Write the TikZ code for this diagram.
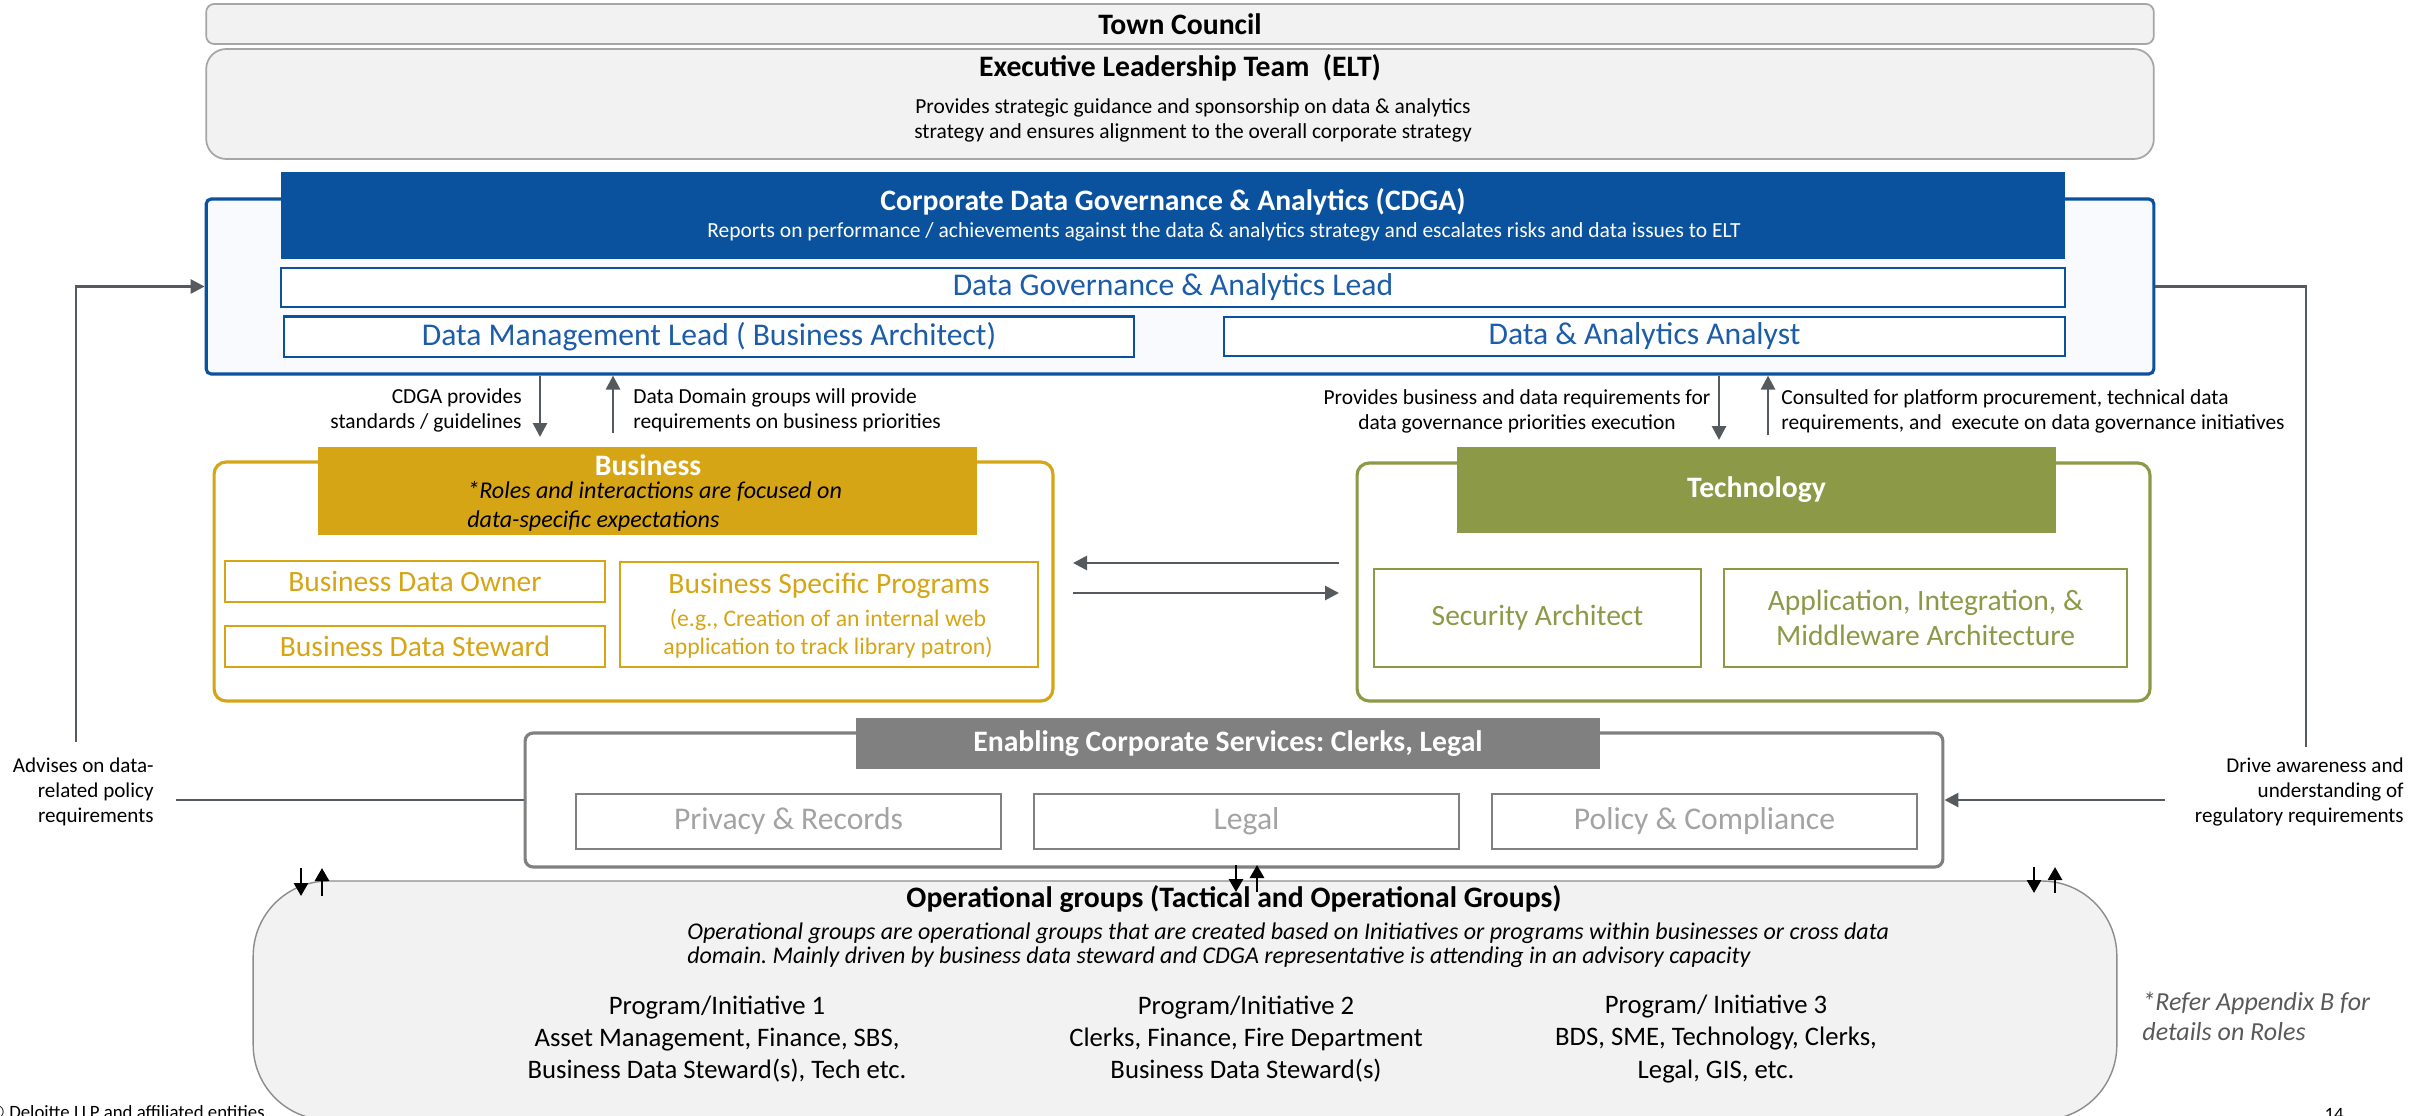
\documentclass[tikz,border=0pt]{standalone}
\usepackage{fontspec}
\setmainfont{Carlito}
\usetikzlibrary{arrows.meta}
\definecolor{cdgablue}{HTML}{0A529D}
\definecolor{roleblue}{HTML}{1B5DA8}
\definecolor{bizgold}{HTML}{D6A515}
\definecolor{techolive}{HTML}{8C9A48}
\definecolor{servgray}{HTML}{808080}
\definecolor{servtext}{HTML}{A3A3A3}
\definecolor{paleg}{HTML}{F2F2F2}
\definecolor{linkgray}{HTML}{555A5F}
\definecolor{cdgafill}{HTML}{F8FAFD}
\newcommand\ttlfont{\bfseries\fontsize{16.9}{20}\selectfont}
\newcommand\rolefont{\fontsize{18}{21}\selectfont}
\newcommand\techfont{\fontsize{16.8}{19.8}\selectfont}
\newcommand\notefont{\fontsize{12.2}{14.2}\selectfont}
\newcommand\progfont{\fontsize{15.2}{18.4}\selectfont}

\begin{document}
\frenchspacing
\begin{tikzpicture}[x=0.02cm,y=-0.02cm,
  txt/.style={inner sep=0pt},
  greybox/.style={draw=black!35,fill=paleg,line width=1pt},
  rolebox/.style={draw,fill=white,line width=1pt,font=\rolefont,align=center},
  conn/.style={draw=linkgray,line width=1.6pt},
  tip/.style={-{Triangle[length=0.28cm,width=0.28cm]}},
  tick/.style={draw=black,line width=1.6pt,-{Triangle[length=0.26cm,width=0.28cm]}}]
\clip (0,0) rectangle (2419,1115);

% top of the hierarchy
\node[greybox,rounded corners=0.16cm,minimum width=38.96cm,minimum height=0.8cm,font=\ttlfont] (council) at (1180,24) {Town Council};
\node[greybox,rounded corners=0.4cm,minimum width=38.96cm,minimum height=2.2cm] (elt) at (1180,104) {};
\node[txt,font=\ttlfont,anchor=base] (eltttl) at (1180,77) {Executive Leadership Team\ \ (ELT)};
\node[txt,font=\fontsize{12.2}{14.2}\selectfont,align=center] (eltnote) at (1193,120.5) {Provides strategic guidance and sponsorship on data \& analytics\\strategy and ensures alignment to the overall corporate strategy};

% CDGA
\node[draw=cdgablue,line width=1.8pt,fill=cdgafill,rounded corners=0.1cm,minimum width=38.96cm,minimum height=3.5cm] (cdga) at (1180,286.5) {};
\node[fill=cdgablue,minimum width=35.68cm,minimum height=1.74cm] (cdgahead) at (1173,215.5) {};
\node[txt,font=\ttlfont,text=white,anchor=base] (cdgattl) at (1173,210) {Corporate Data Governance \& Analytics (CDGA)};
\node[txt,font=\fontsize{12.25}{14}\selectfont,text=white,anchor=base] (cdganote) at (1224,237) {Reports on performance / achievements against the data \& analytics strategy and escalates risks and data issues to ELT};
\node[rolebox,draw=cdgablue,text=roleblue,line width=1.3pt,minimum width=35.68cm,minimum height=0.78cm] (lead) at (1173,287.5) {Data Governance \& Analytics Lead};
\node[rolebox,draw=cdgablue,text=roleblue,line width=1.3pt,minimum width=17cm,minimum height=0.78cm] (dml) at (709,336.5) {Data Management Lead ( Business Architect)};
\node[rolebox,draw=cdgablue,text=roleblue,line width=1.3pt,minimum width=16.82cm,minimum height=0.78cm] (daa) at (1644.5,336.5) {Data \& Analytics Analyst};

% Business
\node[draw=bizgold,line width=1.8pt,fill=white,rounded corners=0.24cm,minimum width=16.78cm,minimum height=4.78cm] (biz) at (633.5,581.5) {};
\node[fill=bizgold,minimum width=13.18cm,minimum height=1.76cm] (bizhead) at (647.5,491) {};
\node[txt,font=\ttlfont,text=white,anchor=base] (bizttl) at (648,475) {Business};
\node[txt,font=\itshape\fontsize{13.7}{16.4}\selectfont,align=left,anchor=west] (biznote) at (467,506) {*Roles and interactions are focused on\\data-specific expectations};
\node[rolebox,draw=bizgold,text=bizgold,minimum width=7.6cm,minimum height=0.82cm,font=\techfont] (bdo) at (415,581.5) {Business Data Owner};
\node[rolebox,draw=bizgold,text=bizgold,minimum width=7.6cm,minimum height=0.82cm,font=\techfont] (bds) at (415,646.5) {Business Data Steward};
\node[rolebox,draw=bizgold,minimum width=8.36cm,minimum height=2.1cm] (bsp) at (829,614.5) {};
\node[txt,font=\techfont,text=bizgold,anchor=base] (bspttl) at (829,593) {Business Specific Programs};
\node[txt,font=\fontsize{13.5}{15.9}\selectfont,text=bizgold,align=center] (bspnote) at (828,633.5) {(e.g., Creation of an internal web\\application to track library patron)};

% Technology
\node[draw=techolive,line width=1.8pt,fill=white,rounded corners=0.24cm,minimum width=15.86cm,minimum height=4.76cm] (tech) at (1753.5,582) {};
\node[fill=techolive,minimum width=11.98cm,minimum height=1.72cm,font=\ttlfont,text=white] (techhead) at (1756.5,490) {Technology};
\node[rolebox,draw=techolive,text=techolive,minimum width=6.54cm,minimum height=1.96cm,font=\techfont] (sec) at (1537.5,618) {Security Architect};
\node[rolebox,draw=techolive,text=techolive,minimum width=8.06cm,minimum height=1.96cm,font=\techfont] (app) at (1925.5,618) {Application, Integration, \&\\Middleware Architecture};

% Enabling corporate services
\node[draw=servgray,line width=1.8pt,fill=white,rounded corners=0.16cm,minimum width=28.36cm,minimum height=2.68cm] (enab) at (1234,800) {};
\node[fill=servgray,minimum width=14.88cm,minimum height=1.02cm,font=\ttlfont,text=white] (enabhead) at (1228,743.5) {Enabling Corporate Services: Clerks, Legal};
\node[rolebox,draw=servgray,text=servtext,minimum width=8.5cm,minimum height=1.1cm] (priv) at (788.5,821.5) {Privacy \& Records};
\node[rolebox,draw=servgray,text=servtext,minimum width=8.5cm,minimum height=1.1cm] (legal) at (1246.5,821.5) {Legal};
\node[rolebox,draw=servgray,text=servtext,minimum width=8.5cm,minimum height=1.1cm] (policy) at (1704.5,821.5) {Policy \& Compliance};

% Operational groups
\node[draw=black!45,line width=0.8pt,fill=paleg,rounded corners=1.5cm,minimum width=37.28cm,minimum height=4.78cm] (ops) at (1185,1000.5) {};
\node[txt,font=\ttlfont,anchor=base] (opsttl) at (1234,907) {Operational groups (Tactical and Operational Groups)};
\node[txt,font=\itshape\fontsize{13.65}{13.8}\selectfont,align=left,anchor=west] (opsnote) at (687,945) {Operational groups are operational groups that are created based on Initiatives or programs within businesses or cross data\\domain. Mainly driven by business data steward and CDGA representative is attending in an advisory capacity};
\node[txt,font=\progfont,align=center] (prog1) at (717,1039) {Program/Initiative 1\\Asset Management, Finance, SBS,\\Business Data Steward(s), Tech etc.};
\node[txt,font=\progfont,align=center] (prog2) at (1246,1039) {Program/Initiative 2\\Clerks, Finance, Fire Department\\Business Data Steward(s)};
\node[txt,font=\progfont,align=center] (prog3) at (1716,1039) {Program/ Initiative 3\\BDS, SME, Technology, Clerks,\\Legal, GIS, etc.};
\node[txt,font=\itshape\fontsize{14.8}{17}\selectfont,text=black!65,align=left,anchor=west] (refer) at (2142,1016.5) {*Refer Appendix B for\\details on Roles};

% labels beside the connectors
\node[txt,font=\notefont,align=right,anchor=east] (cdgalbl) at (522,410.5) {CDGA provides\\standards / guidelines};
\node[txt,font=\notefont,align=left,anchor=west] (domlbl) at (633,410.5) {Data Domain groups will provide\\requirements on business priorities};
\node[txt,font=\notefont,align=center] (reqlbl) at (1517,411) {Provides business and data requirements for\\data governance priorities execution};
\node[txt,font=\notefont,align=left,anchor=west] (conslbl) at (1781,411) {Consulted for platform procurement, technical data\\requirements, and\ \ execute on data governance initiatives};
\node[txt,font=\fontsize{12}{14.2}\selectfont,align=right,anchor=east] (advlbl) at (154,792) {Advises on data-\\related policy\\requirements};
\node[txt,font=\fontsize{12}{14.2}\selectfont,align=right,anchor=east] (drvlbl) at (2404,792) {Drive awareness and\\understanding of\\regulatory requirements};
\node[txt,font=\fontsize{10.7}{12}\selectfont,anchor=base west] (copy) at (-11,1118) {© Deloitte LLP and affiliated entities.};
\node[txt,font=\fontsize{10.7}{12}\selectfont,anchor=base] (pageno) at (2334,1120) {14};

% connectors
\coordinate (advbot) at (76,742);
\coordinate (drvbot) at (2306,747);
\draw[conn,tip] (advbot) |- (cdga.west);
\draw[conn] (drvbot) |- (cdga.east);
\coordinate (advend) at (176,800);
\coordinate (drvend) at (2165,800);
\draw[conn] (advend) -- (enab.west);
\draw[conn,tip] (drvend) -- (enab.east);
\coordinate (dnbiz) at (540,437);
\coordinate (upbiz) at (613,433);
\coordinate (dntech) at (1719,440);
\coordinate (uptech) at (1768,435);
\draw[conn,tip] (cdga.south -| dnbiz) -- (dnbiz);
\draw[conn,tip] (upbiz) -- (cdga.south -| upbiz);
\draw[conn,tip] (cdga.south -| dntech) -- (dntech);
\draw[conn,tip] (uptech) -- (cdga.south -| uptech);
\coordinate (bizr) at (1073,563);
\coordinate (techl) at (1339,563);
\draw[conn,tip] (techl) -- (bizr);
\draw[conn,tip] ([yshift=-0.6cm]bizr) -- ([yshift=-0.6cm]techl);

% small arrows into the operational groups
\foreach \x/\top/\bot in {301/868/896, 1236/865/892, 2034/867/893}{
  \draw[tick] (\x,\top) -- (\x,\bot);
  \draw[tick] (\x+21,\bot) -- (\x+21,\top);
}
\end{tikzpicture}
\end{document}
